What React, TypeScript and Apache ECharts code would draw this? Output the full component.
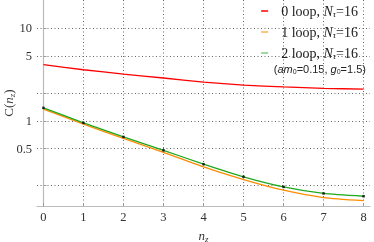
import React, { useEffect, useRef } from "react";
import * as echarts from "echarts";

const nz = [0, 1, 2, 3, 4, 5, 6, 7, 8];
const loop0 = [4.04, 3.56, 3.2, 2.9, 2.62, 2.43, 2.32, 2.24, 2.2];
const loop1 = [1.34, 0.92, 0.645, 0.455, 0.318, 0.232, 0.178, 0.148, 0.137];
const loop2 = [1.38, 0.95, 0.67, 0.48, 0.34, 0.248, 0.193, 0.164, 0.153];
const yGridValues = [0.2, 0.5, 1, 2, 5, 10];
const yLabelValues = [0.5, 1, 5, 10];
const xTickValues = [0, 1, 2, 3, 4, 5, 6, 7, 8];
const seriesNames = ["0 loop", "1 loop", "2 loop"];

const SERIF = "'Liberation Serif', 'DejaVu Serif', serif";
const SANS = "'Liberation Sans', Arial, sans-serif";

export default function App() {
  const ref = useRef<HTMLDivElement>(null);
  useEffect(() => {
    if (!ref.current) return;
    const chart = echarts.init(ref.current, null, { renderer: "svg" });
    const pair = (arr: number[]) => nz.map((x, i) => [x, arr[i]]);
    const gridLine = { show: true, lineStyle: { color: "#666", type: [1, 2.5] as any, width: 1 } };
    chart.setOption({
      animation: false,
      grid: { left: 37, right: 4, top: 0, bottom: 36, containLabel: false, outerBoundsMode: "none" },
      legend: {
        orient: "vertical",
        right: 16,
        top: 4,
        padding: 0,
        itemGap: 6.5,
        itemWidth: 7,
        itemHeight: 1.5,
        icon: "rect",
        data: [
          { name: seriesNames[0], itemStyle: { color: "#ff0000" } },
          { name: seriesNames[1], itemStyle: { color: "#ffb050" } },
          { name: seriesNames[2], itemStyle: { color: "#80c880" } },
        ],
        formatter: (name: string) => `${name}, {i|N}{s|τ}=16`,
        textStyle: {
          fontFamily: SERIF,
          fontSize: 14,
          color: "#222",
          lineHeight: 14,
          padding: [0, 0, 0, 8],
          rich: {
            i: { fontFamily: SERIF, fontStyle: "italic", fontSize: 14, color: "#222" },
            s: { fontFamily: SERIF, fontStyle: "italic", fontSize: 9, color: "#222", padding: [6, 0, 0, 0] },
          },
        },
      },
      graphic: [
        {
          type: "text",
          right: 8,
          top: 63,
          style: {
            text: "({i|am}{s|0}=0.15, {i|g}{s|0}=1.5)",
            font: `11px ${SANS}`,
            fill: "#222",
            rich: {
              i: { fontFamily: SANS, fontStyle: "italic", fontSize: 11, fill: "#222" },
              s: { fontFamily: SANS, fontSize: 7, fill: "#222", padding: [5, 0, 0, 0] },
            },
          },
        },
      ],
      xAxis: {
        type: "value",
        min: -0.16,
        max: 8.16,
        name: "{i|n}{s|z}",
        nameLocation: "middle",
        nameGap: 22,
        nameMoveOverlap: false,
        nameTextStyle: {
          rich: {
            i: { fontFamily: SERIF, fontStyle: "italic", fontSize: 13, color: "#333" },
            s: { fontFamily: SERIF, fontStyle: "italic", fontSize: 9, color: "#333", padding: [6, 0, 0, 0] },
          },
        },
        axisLine: { show: true, lineStyle: { color: "#bbb", width: 1.2 } },
        axisTick: { show: true, inside: true, length: 3, customValues: xTickValues, lineStyle: { color: "#999" } },
        axisLabel: { customValues: xTickValues, fontFamily: SERIF, fontSize: 12.5, color: "#333", margin: 4 },
        splitLine: gridLine,
      },
      yAxis: {
        type: "log",
        logBase: 10,
        min: 0.12,
        max: 20.2,
        name: "C({i|n}{s|z})",
        nameLocation: "middle",
        nameGap: 21,
        nameMoveOverlap: false,
        nameTextStyle: {
          fontFamily: SERIF,
          fontSize: 13,
          color: "#333",
          rich: {
            i: { fontFamily: SERIF, fontStyle: "italic", fontSize: 13, color: "#333" },
            s: { fontFamily: SERIF, fontStyle: "italic", fontSize: 9, color: "#333", padding: [6, 0, 0, 0] },
          },
        },
        axisLine: { show: true, lineStyle: { color: "#bbb", width: 1.2 } },
        axisTick: { show: true, inside: true, length: 3, customValues: yGridValues, lineStyle: { color: "#999" } },
        axisLabel: { customValues: yLabelValues, fontFamily: SERIF, fontSize: 12.5, color: "#333", margin: 5 },
        splitLine: gridLine,
      },
      series: [
        {
          name: seriesNames[0],
          type: "line",
          data: pair(loop0),
          showSymbol: false,
          smooth: 0.2,
          lineStyle: { color: "#ff0000", width: 1.3 },
          itemStyle: { color: "#ff0000" },
        },
        {
          name: seriesNames[1],
          type: "line",
          data: pair(loop1),
          showSymbol: false,
          smooth: 0.2,
          lineStyle: { color: "#ff8c00", width: 1.3 },
          itemStyle: { color: "#ff8c00" },
        },
        {
          name: seriesNames[2],
          type: "line",
          data: pair(loop2),
          showSymbol: false,
          smooth: 0.2,
          lineStyle: { color: "#1ea81e", width: 1.3 },
          itemStyle: { color: "#1ea81e" },
        },
        {
          name: "data",
          type: "scatter",
          data: pair(loop2),
          symbol: "rect",
          symbolSize: 2.5,
          itemStyle: { color: "#000" },
          z: 5,
        },
      ],
    });
    return () => chart.dispose();
  }, []);
  return <div ref={ref} style={{ position: "fixed", left: 0, top: 0, width: 374, height: 242 }} />;
}
